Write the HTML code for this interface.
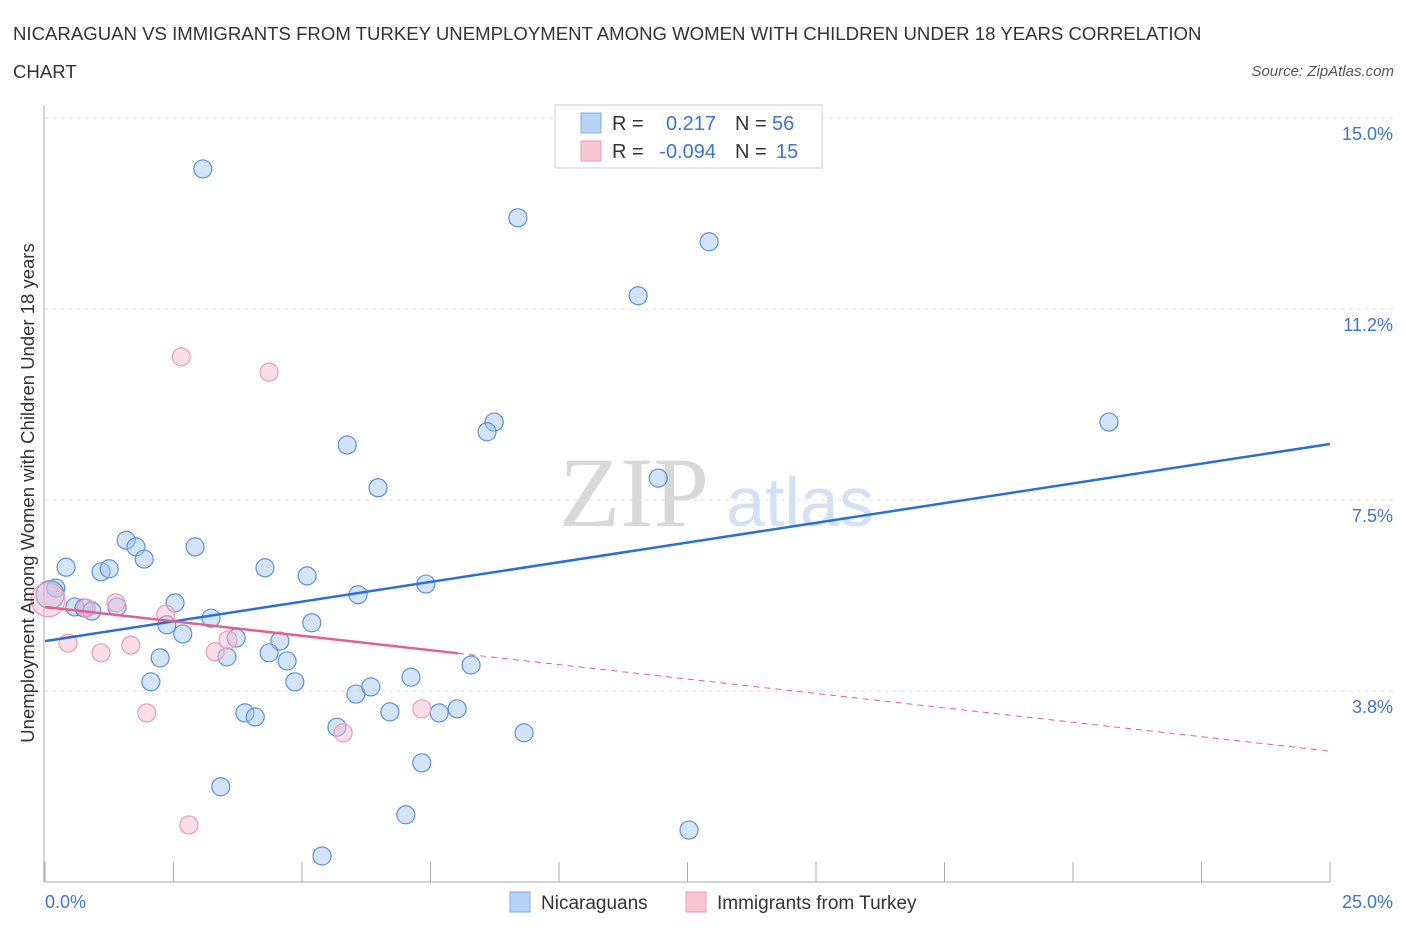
<!DOCTYPE html>
<html><head><meta charset="utf-8">
<style>
body{margin:0;background:#fff;font-family:"Liberation Sans",sans-serif;}
svg text{font-family:"Liberation Sans",sans-serif;}
</style></head>
<body>
<svg id="chart" width="1406" height="930" xmlns="http://www.w3.org/2000/svg">
<text x="13" y="40" font-size="18.6" fill="#333">NICARAGUAN VS IMMIGRANTS FROM TURKEY UNEMPLOYMENT AMONG WOMEN WITH CHILDREN UNDER 18 YEARS CORRELATION</text>
<text x="13" y="78" font-size="18.6" fill="#333">CHART</text>
<text x="1394" y="76" font-size="15" fill="#555" font-style="italic" text-anchor="end">Source: ZipAtlas.com</text>
<text x="634" y="526" font-size="100" fill="#d8d8d8" style="font-family:'Liberation Serif',serif" text-anchor="middle">ZIP</text>
<text x="800" y="526" font-size="70" fill="#d3e1f5" text-anchor="middle">atlas</text>
<g id="grid"></g>
<g id="axes"></g>
<g id="marks"></g>
<text transform="translate(34,493) rotate(-90)" font-size="18.5" fill="#333" text-anchor="middle">Unemployment Among Women with Children Under 18 years</text>
<g>
<rect x="555" y="105" width="267" height="63" fill="#fff" stroke="#ccc"/>
<rect x="581" y="113" width="20" height="20" fill="#b9d3f6" stroke="#7ea9e6"/>
<rect x="581" y="141" width="20" height="20" fill="#f9c5d5" stroke="#ec9ab4"/>
<text x="612" y="130" font-size="20" fill="#333">R =</text>
<text x="716" y="130" font-size="20" fill="#3b74d1" text-anchor="end">0.217</text>
<text x="735" y="130" font-size="20" fill="#333">N =</text>
<text x="772" y="130" font-size="20" fill="#3b74d1">56</text>
<text x="612" y="158" font-size="20" fill="#333">R =</text>
<text x="716" y="158" font-size="20" fill="#3b74d1" text-anchor="end">-0.094</text>
<text x="735" y="158" font-size="20" fill="#333">N =</text>
<text x="776" y="158" font-size="20" fill="#3b74d1">15</text>
</g>
<g>
<rect x="510" y="892" width="20" height="20" fill="#b9d3f6" stroke="#7ea9e6"/>
<text x="541" y="909" font-size="19" fill="#333">Nicaraguans</text>
<rect x="686" y="892" width="20" height="20" fill="#f9c5d5" stroke="#ec9ab4"/>
<text x="717" y="909" font-size="19" fill="#333">Immigrants from Turkey</text>
</g>
</svg>
<script>
const xTicks=[0,25];
const yTicks=[3.75,7.5,11.25,15];
const yTickLabels=["3.8%","7.5%","11.2%","15.0%"];
const blueX=[3.07,9.20,12.92,11.54,20.70,8.74,8.60,5.88,6.48,11.93,1.58,1.77,2.92,0.41,1.09,1.25,1.93,4.28,5.10,0.21,7.41,6.09,2.53,0.58,0.76,0.91,1.40,3.23,2.37,5.19,2.68,3.72,4.57,2.24,4.36,3.54,4.71,8.29,2.06,4.86,7.12,6.05,6.34,3.89,4.09,6.71,7.67,8.02,5.68,9.32,7.33,3.42,7.02,12.53,5.39,0.10];
const blueY=[14.00,13.04,12.57,11.51,9.03,9.03,8.84,8.58,7.74,7.93,6.71,6.58,6.58,6.18,6.09,6.15,6.34,6.17,6.01,5.77,5.85,5.64,5.48,5.40,5.38,5.32,5.40,5.18,5.05,5.09,4.87,4.79,4.73,4.40,4.50,4.42,4.34,4.26,3.93,3.93,4.02,3.69,3.83,3.32,3.24,3.34,3.32,3.40,3.04,2.93,2.34,1.87,1.32,1.02,0.51,5.64];
const pinkX=[2.65,4.36,0.06,0.80,1.38,2.35,0.45,1.09,1.67,3.31,3.56,1.98,7.33,5.80,2.80];
const pinkY=[10.31,10.01,5.54,5.38,5.48,5.26,4.69,4.50,4.65,4.52,4.75,3.32,3.40,2.93,1.12];
const blueTrend=[4.73,0.1548];
const pinkTrend=[5.40,-0.1132];
const pinkSolidEnd=8.04;

const NS="http://www.w3.org/2000/svg";
const X0=45,X1=1330,Y0=882,Y1=118;
const sx=v=>X0+(v-0)/25*(X1-X0);
const sy=v=>Y0-(v/15)*(Y0-Y1);
function mk(tag,attrs,parent){const e=document.createElementNS(NS,tag);for(const k in attrs)e.setAttribute(k,attrs[k]);parent.appendChild(e);return e;}
const grid=document.getElementById('grid'),axes=document.getElementById('axes'),marks=document.getElementById('marks');
yTicks.forEach((t,i)=>{
 const l=mk('line',{x1:X0,x2:1394,y1:sy(t),y2:sy(t),stroke:'#ddd','stroke-dasharray':'4,4'},grid);
 
 
 const tx=mk('text',{x:1393,y:sy(t)+22,'font-size':18,fill:'#3b74d1','text-anchor':'end'},axes);
 tx.textContent=yTickLabels[i];
 
 
});
const ax=mk('line',{x1:X0,x2:X1,y1:Y0,y2:Y0,stroke:'#aaa'},axes);


const ay=mk('line',{x1:44,x2:44,y1:105,y2:Y0,stroke:'#aaa'},axes);


for(let i=0;i<=10;i++){
 const t=mk('line',{x1:sx(i*2.5),x2:sx(i*2.5),y1:862,y2:Y0,stroke:'#aaa'},axes);
 
 
}
xTicks.forEach(t=>{
 const tx=mk('text',{x:t===0?45:1393,y:908,'font-size':18,fill:'#3b74d1','text-anchor':t===0?'start':'end'},axes);
 tx.textContent=t.toFixed(1)+'%';
 
 
});
blueX.forEach((x,i)=>{
 const r=(i===blueX.length-1)?14:9;
 const c=mk('circle',{cx:sx(x),cy:sy(blueY[i]),r:r,fill:'rgba(160,196,240,0.45)',stroke:'#5b90dc','stroke-width':1.2},marks);
 
 
});
pinkX.forEach((x,i)=>{
 const r=(i===2)?17:9;
 const c=mk('circle',{cx:sx(x),cy:sy(pinkY[i]),r:r,fill:'rgba(248,182,204,0.45)',stroke:'#ec9ab4','stroke-width':1.2},marks);
 
 
});
const bl=mk('line',{x1:sx(0),y1:sy(blueTrend[0]),x2:sx(25),y2:sy(blueTrend[0]+blueTrend[1]*25),stroke:'#2a6fd6','stroke-width':2.5},marks);


const pl=mk('line',{x1:sx(0),y1:sy(pinkTrend[0]),x2:sx(pinkSolidEnd),y2:sy(pinkTrend[0]+pinkTrend[1]*pinkSolidEnd),stroke:'#e3608c','stroke-width':2.5},marks);


const pd=mk('line',{x1:sx(pinkSolidEnd),y1:sy(pinkTrend[0]+pinkTrend[1]*pinkSolidEnd),x2:sx(25),y2:sy(pinkTrend[0]+pinkTrend[1]*25),stroke:'#e3608c','stroke-width':1,'stroke-dasharray':'6,5'},marks);


</script>
</body></html>
